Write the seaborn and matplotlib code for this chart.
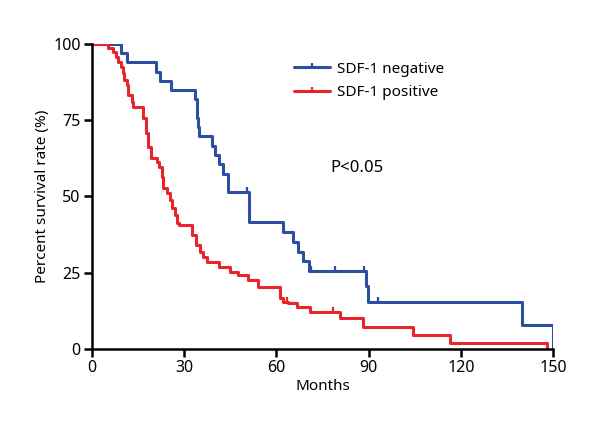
import numpy as np
import pandas as pd
import matplotlib
matplotlib.use('Agg')
import matplotlib.pyplot as plt
from matplotlib.path import Path
import seaborn as sns

# survival steps (months, % surviving after the step)
neg_months = [0, 9.5, 11.5, 21.0, 22.1, 25.7, 33.5, 34.2, 34.5, 34.8, 39.0, 40.0, 41.3, 42.6,
              44.3, 51.2, 62.2, 65.4, 67.0, 68.7, 70.6, 89.2, 89.8, 140.0, 150.0]
neg_surv = [100, 97, 94, 90.8, 87.9, 84.8, 81.8, 75.7, 72.7, 69.7, 66.6, 63.6, 60.6, 57.5,
            51.5, 41.6, 38.4, 35.1, 31.9, 28.8, 25.6, 20.5, 15.4, 7.7, 0]
neg_censor = [50.3, 71.3, 79.2, 88.5, 93.1]

pos_months = [0, 5.2, 6.8, 7.8, 8.5, 9.4, 10.1, 10.4, 11.4, 11.7, 13.0, 13.3, 16.6, 17.6,
              18.2, 19.2, 21.2, 21.8, 22.8, 23.1, 24.4, 25.4, 26.0, 27.0, 27.7, 28.5, 32.5,
              33.8, 35.1, 36.1, 37.4, 41.3, 44.9, 47.5, 50.8, 54.0, 61.2, 62.2, 63.8, 66.7,
              70.9, 80.7, 88.2, 104.5, 116.5, 148.0]
pos_surv = [100, 98.7, 97.4, 95.7, 94.1, 92.5, 90.5, 88.2, 86.6, 83.3, 81.0, 79.3, 75.7, 70.8,
            66.2, 62.6, 61.3, 59.7, 56.4, 52.8, 51.1, 48.9, 46.2, 43.9, 41.3, 40.6, 37.4,
            34.1, 31.8, 30.2, 28.5, 26.9, 25.2, 24.3, 22.6, 20.3, 16.7, 15.4, 15.1, 13.8,
            12.1, 10.2, 7.2, 4.6, 2.0, 0]
pos_censor = [63.3, 78.3]

labels = ['SDF-1 negative', 'SDF-1 positive']
colors = ['#2c4ea3', '#e8252b']

sns.set_style('ticks')
plt.rcParams['font.family'] = ['Noto Sans', 'DejaVu Sans']
plt.rcParams['font.stretch'] = 'condensed'
plt.rcParams['text.color'] = 'black'
plt.rcParams['axes.labelcolor'] = 'black'
plt.rcParams['xtick.color'] = 'black'
plt.rcParams['ytick.color'] = 'black'

fig, ax = plt.subplots(figsize=(6, 4.4), dpi=100)
fig.subplots_adjust(left=0.153, right=0.922, bottom=0.207, top=0.9)

tick_up = Path([(0, 0), (0, 1)], [Path.MOVETO, Path.LINETO])

groups = [(neg_months, neg_surv, neg_censor), (pos_months, pos_surv, pos_censor)]
for (t, s, cens), lab, col in zip(groups, labels, colors):
    df = pd.DataFrame({'Months': t, 'Survival': s})
    sns.lineplot(data=df, x='Months', y='Survival', drawstyle='steps-post', color=col,
                 lw=2.2, ax=ax, legend=False)
    idx = np.searchsorted(t, cens, side='right') - 1
    ax.plot(cens, np.array(s)[idx], ls='none', marker=tick_up, ms=7, mew=1.6, color=col)

# legend handles with the small censor tick in the middle
handles = [plt.Line2D([0, 0.5, 1], [0, 0, 0], color=c, lw=2.2, marker=tick_up, ms=6,
                      mew=1.6, markevery=[1]) for c in colors]
ax.legend(handles, labels, loc='upper left', bbox_to_anchor=(0.424, 0.962),
          frameon=False, fontsize=11, handlelength=2.4, handletextpad=0.45,
          labelspacing=0.55, borderaxespad=0)

ax.text(0.518, 0.593, 'P<0.05', fontsize=12, transform=ax.transAxes, va='center', ha='left')

ax.set_xlim(0, 150)
ax.set_ylim(0, 100)
ax.set_xticks([0, 30, 60, 90, 120, 150])
ax.set_yticks([0, 25, 50, 75, 100])
ax.set_xlabel('Months', fontsize=11, labelpad=2)
ax.set_ylabel('Percent survival rate (%)', fontsize=11, labelpad=2)
ax.tick_params(labelsize=11.5, width=1.8, length=6, pad=2)
for side in ['left', 'bottom']:
    ax.spines[side].set_linewidth(1.8)
    ax.spines[side].set_color('black')
sns.despine(ax=ax)

fig.savefig('out.png', dpi=100)
